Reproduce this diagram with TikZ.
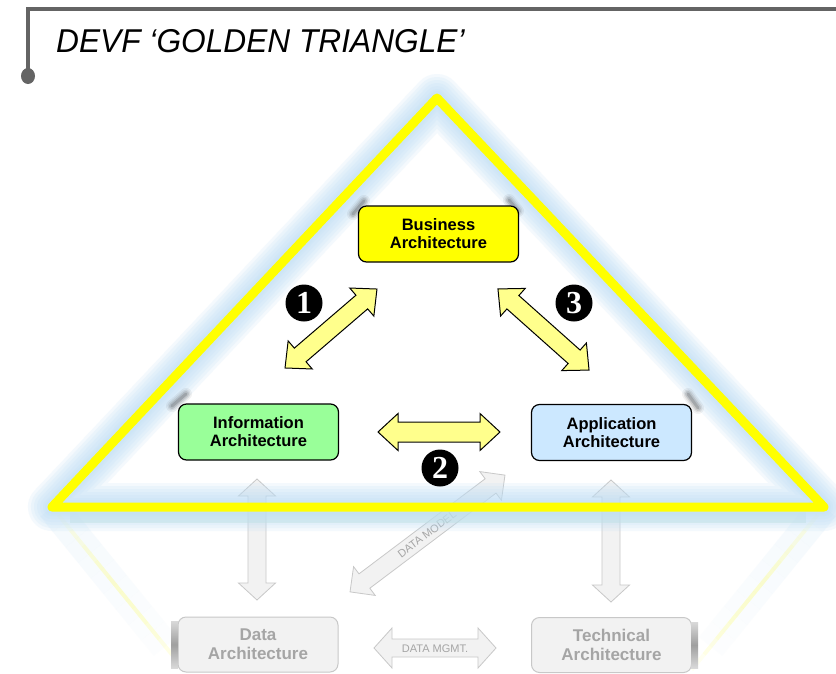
\documentclass[tikz,border=0pt]{standalone}
\usepackage{fontspec}
\setmainfont{Liberation Sans}
\newfontfamily\titlefont[FakeStretch=0.96]{Liberation Sans}
\newfontfamily\numfont{Liberation Serif}
\usetikzlibrary{calc}
\definecolor{glowc}{RGB}{190,222,246}
\definecolor{glowg}{RGB}{196,230,212}
\definecolor{triy}{RGB}{255,255,0}
\definecolor{arry}{RGB}{255,255,140}
\definecolor{infog}{RGB}{153,255,153}
\definecolor{appb}{RGB}{204,232,255}
\definecolor{ghostfill}{RGB}{242,242,242}
\definecolor{ghostline}{RGB}{200,200,200}
\definecolor{ghosttext}{RGB}{165,165,165}
\definecolor{rulegray}{RGB}{100,100,100}
% center, angle, half length, shaft half width, head half width, head length, style
\newcommand\fatarrow[7]{%
  \begin{scope}[shift={#1},rotate=#2]
    \path[#7] (-#3,0) -- (-#3+#6,#5) -- (-#3+#6,#4) -- (#3-#6,#4) -- (#3-#6,#5)
      -- (#3,0) -- (#3-#6,-#5) -- (#3-#6,-#4) -- (-#3+#6,-#4) -- (-#3+#6,-#5) -- cycle;
  \end{scope}}
\tikzset{
  yarrow/.style={draw=black, line width=1pt, fill=arry, line join=miter},
  garrow/.style={draw=ghostline, line width=0.8pt, fill=ghostfill, line join=miter},
  archbox/.style={draw=black, line width=1.2pt, rounded corners=8pt,
    minimum width=160pt, minimum height=56pt, align=center, inner sep=0pt,
    font=\fontsize{16.5}{18}\selectfont\bfseries},
  ghostbox/.style={draw=ghostline, line width=1pt, fill=ghostfill, rounded corners=8pt,
    minimum width=160pt, minimum height=55pt, align=center, inner sep=0pt,
    text=ghosttext, font=\fontsize{17}{19}\selectfont\bfseries},
  numc/.style={circle, fill=black, minimum size=37pt, inner sep=0pt, text=white,
    font=\numfont\bfseries\fontsize{32}{32}\selectfont},
  glabel/.style={text=ghosttext, font=\fontsize{11}{11}\selectfont, inner sep=0pt},
  cshadow/.style={line cap=round, draw=black}
}
\begin{document}
\begin{tikzpicture}[x=1pt,y=-1pt]
\useasboundingbox[fill=white] (0,0) rectangle (836,673);

% title rule
\coordinate (rA) at (836,9);
\coordinate (rB) at (28,9);
\coordinate (rC) at (28,72);
\draw[rulegray, line width=3.5pt, line join=miter] (rA) -- (rB) -- (rC);
\fill[rulegray] (28,76) ellipse [x radius=7, y radius=8];
\node[anchor=base west, inner sep=0pt, font=\titlefont\itshape\fontsize{33}{33}\selectfont] (title) at (56,52) {DEVF ‘GOLDEN TRIANGLE’};

% triangle corners
\coordinate (apex) at (437,98);
\coordinate (bl) at (52,507);
\coordinate (br) at (824,507);
\coordinate (rl) at (178,662);
\coordinate (rr) at (698,662);

% reflection of the triangle sides
\foreach \t in {0,0.1,...,0.9}{
  \pgfmathsetmacro\op{0.16*(1-\t)}
  \pgfmathsetmacro\tn{\t+0.1}
  \draw[glowc, line width=30pt, opacity=\op] ($(bl)!\t!(rl)$) -- ($(bl)!\tn!(rl)$);
  \draw[glowc, line width=30pt, opacity=\op] ($(br)!\t!(rr)$) -- ($(br)!\tn!(rr)$);
}
\foreach \t in {0.05,0.15,...,0.95}{
  \pgfmathsetmacro\op{0.16*sin(180*\t)+0.03}
  \pgfmathsetmacro\tn{\t+0.1}
  \draw[triy, line width=4pt, opacity=\op] ($(bl)!\t!(rl)$) -- ($(bl)!\tn!(rl)$);
  \draw[triy, line width=4pt, opacity=\op] ($(br)!\t!(rr)$) -- ($(br)!\tn!(rr)$);
}

% ghost (reflected) boxes and arrows
\node[ghostbox] (data) at (258,644.5) {Data\\Architecture};
\node[ghostbox] (tech) at (611.5,645) {Technical\\Architecture};
\shade[top color=gray!30, bottom color=gray!30, middle color=gray!75] (171,621) rectangle (178,668);
\shade[top color=gray!30, bottom color=gray!30, middle color=gray!75] (691,622) rectangle (698,668);

\fatarrow{(257,539.5)}{90}{60.5}{9}{18.5}{17}{garrow}
\fatarrow{(611,541)}{90}{61}{9}{18.5}{17}{garrow}
\fatarrow{(427.5,533.5)}{37}{97}{9}{18}{18}{garrow}
\fatarrow{(435,648)}{0}{61}{9}{20}{18}{garrow}
\node[glabel] (dmgmt) at (435,648.5) {DATA MGMT.};
\node[glabel, rotate=37] (dmodel) at (427,534) {DATA MODEL};

% glow of the triangle
\fill[glowg, opacity=0.45] (70,512) rectangle (806,523);
\foreach \w in {48,42,36,30,24,18,14}{
  \draw[glowc, line width=\w pt, opacity=0.17, line join=round] (apex) -- (bl) -- (br) -- cycle;
}
\draw[triy, line width=9pt, line join=round] (apex) -- (bl) -- (br) -- cycle;

% corner shadows
\foreach \a/\b in {{(353,214)}/{(364,201)}, {(509,200)}/{(518,211)}, {(172,406)}/{(186,394)}, {(688,394)}/{(698,408)}}{
  \foreach \w/\o in {12/0.05, 9/0.07, 6/0.1, 3/0.14}{
    \draw[cshadow, line width=\w pt, opacity=\o] \a -- \b;
  }
}

% main boxes
\node[archbox, fill=triy] (bus) at (438.5,234) {Business\\Architecture};
\node[archbox, fill=infog] (info) at (258.5,432) {Information\\Architecture};
\node[archbox, fill=appb] (app) at (611.5,432.5) {Application\\Architecture};

% yellow relation arrows
\fatarrow{(331,328.5)}{40.65}{60.6}{9}{18.5}{20}{yarrow}
\fatarrow{(543.5,329.5)}{-41.7}{61}{9}{18.5}{20}{yarrow}
\fatarrow{(439,432)}{0}{61}{10}{18.5}{20}{yarrow}

% numbers
\node[numc] (n1) at (304,303) {1};
\node[numc] (n2) at (440,468) {2};
\node[numc] (n3) at (574,303) {3};
\end{tikzpicture}
\end{document}
